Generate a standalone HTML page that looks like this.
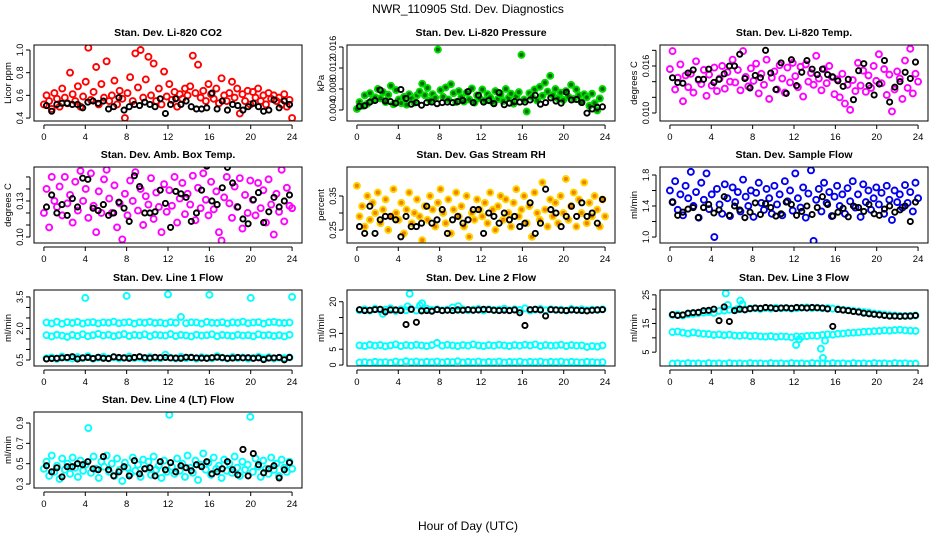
<!DOCTYPE html>
<html><head><meta charset="utf-8">
<style>
html,body{margin:0;padding:0;background:#fff;}
svg{display:block;font-family:"Liberation Sans",Arial,sans-serif;}
</style></head>
<body>
<svg id="chart" width="936" height="540" viewBox="0 0 936 540" xmlns="http://www.w3.org/2000/svg">
<rect x="0" y="0" width="936" height="540" fill="#fff"/>
<text x="468" y="13" font-size="12" text-anchor="middle" fill="#000">NWR_110905  Std. Dev. Diagnostics</text>
<text x="468" y="530" font-size="12" text-anchor="middle" fill="#000">Hour of Day (UTC)</text>
<g id="panels"></g>
</svg>
<script>
// ---- data (cloud series: 96 samples over 0..24h; black series: 48 half-hour samples) ----
const xTicks = [0,4,8,12,16,20,24];
const co2Red = [.52,.60,.55,.48,.62,.57,.50,.66,.58,.53,.80,.61,.55,.68,.50,.59,.72,1.02,.56,.63,.85,.52,.70,.58,.90,.55,.60,.73,.52,.64,.57,.40,.62,.76,.55,.97,.67,1.0,.58,.74,.94,.60,.88,.55,.66,.52,.81,.59,.70,.56,.63,.50,.61,.57,.66,.60,.68,.95,.62,.87,.58,.64,.55,.70,.61,.57,.66,.53,.75,.60,.55,.62,.72,.58,.66,.44,.61,.55,.64,.52,.63,.58,.66,.55,.60,.52,.62,.57,.60,.55,.58,.52,.61,.50,.56,.40];
const co2Black = [.51,.46,.52,.53,.53,.52,.52,.49,.54,.55,.53,.55,.48,.50,.58,.47,.50,.52,.51,.54,.52,.50,.57,.44,.52,.57,.52,.55,.50,.48,.48,.49,.62,.48,.55,.47,.52,.51,.47,.50,.53,.50,.46,.47,.56,.49,.55,.52];
const presGreen = [4.2,5.5,4.8,6.8,5.2,7.2,5.9,6.4,8.0,6.2,7.4,5.5,6.9,8.6,5.1,7.8,6.0,5.3,6.5,5.0,7.0,6.2,5.4,6.8,7.5,9.0,6.8,8.2,5.8,7.0,6.3,15.5,7.8,6.5,8.3,6.0,8.9,7.2,5.5,7.6,6.4,5.6,7.3,6.0,8.1,5.4,6.8,6.2,7.9,5.8,7.0,6.4,5.5,7.6,6.1,6.9,5.7,8.0,6.3,7.1,5.2,6.6,7.4,14.5,6.0,3.7,7.2,6.5,7.9,5.8,8.4,6.7,9.2,7.5,10.5,6.8,8.0,6.2,7.3,5.9,7.6,6.5,8.8,6.1,7.9,6.8,5.5,7.0,6.4,4.8,7.1,5.3,3.9,6.2,8.0,17.0];
const presBlack = [4.7,4.8,5.5,5.8,7.8,5.7,5.6,5.3,7.9,6.2,5.1,5.4,4.9,5.4,5.5,5.2,5.4,5.5,5.4,5.6,5.8,7.5,5.4,6.8,5.5,5.8,5.2,7.3,5.0,5.3,5.6,5.5,5.5,5.9,6.8,5.1,5.4,6.3,5.7,5.3,7.4,5.9,6.0,5.4,3.4,4.2,4.5,4.6];
const tempMag = [15.6,17.9,13.0,14.5,16.2,11.5,14.8,13.3,15.0,12.6,16.6,14.2,13.7,15.5,12.2,14.9,13.5,15.8,12.8,14.4,16.0,13.1,15.2,14.0,16.8,13.9,15.5,12.9,17.9,14.6,13.4,15.7,14.1,16.3,12.5,15.0,13.6,16.8,11.8,14.5,15.3,13.0,16.1,14.4,12.6,15.8,13.9,16.4,14.7,13.3,15.9,12.1,16.2,14.0,15.1,13.6,17.3,14.4,12.9,15.6,13.8,16.0,14.6,12.4,14.3,12.0,15.0,11.2,13.6,10.4,14.2,12.8,16.4,13.5,15.4,12.7,14.8,13.2,16.0,14.1,17.5,13.8,15.6,12.3,14.9,10.2,13.0,15.3,14.4,11.8,16.7,13.2,18.2,12.5,15.0,14.0];
const tempBlack = [14.5,13.9,13.8,15.1,15.5,14.3,14.3,15.6,13.9,14.3,15.0,16.0,16.0,17.5,14.4,13.2,14.8,14.5,18.0,15.1,13.0,16.4,12.5,16.8,13.5,15.2,16.7,15.6,14.9,15.6,14.9,14.6,14.1,13.4,14.3,11.7,15.4,16.3,13.5,12.3,13.7,16.7,11.4,13.3,14.0,15.2,14.4,16.5];
const ambMag = [.12,.14,.108,.15,.13,.125,.142,.118,.15,.128,.135,.112,.146,.122,.155,.13,.14,.116,.153,.126,.104,.138,.12,.148,.156,.132,.12,.143,.108,.128,.098,.136,.118,.147,.13,.154,.122,.14,.11,.134,.127,.149,.115,.137,.125,.104,.144,.121,.139,.126,.15,.112,.132,.145,.119,.136,.127,.151,.114,.141,.124,.153,.131,.118,.146,.123,.138,.104,.097,.133,.15,.128,.116,.142,.125,.149,.107,.135,.12,.147,.131,.118,.145,.124,.139,.112,.148,.127,.102,.136,.121,.156,.113,.141,.126,.124];
const ambBlack = [.125,.135,.12,.127,.118,.132,.125,.149,.148,.124,.122,.127,.118,.12,.129,.124,.113,.151,.142,.12,.12,.121,.139,.128,.108,.138,.136,.133,.113,.12,.139,.159,.13,.127,.141,.158,.145,.125,.115,.111,.131,.137,.112,.121,.133,.125,.13,.135];
const rhOrange = [.38,.29,.32,.26,.35,.28,.33,.30,.36,.27,.31,.34,.25,.29,.37,.30,.28,.33,.24,.31,.36,.27,.30,.34,.29,.22,.32,.28,.35,.31,.26,.33,.37,.30,.27,.34,.24,.31,.36,.29,.32,.26,.35,.23,.30,.28,.34,.31,.29,.33,.27,.36,.31,.25,.32,.35,.28,.34,.30,.26,.33,.37,.29,.31,.35,.27,.32,.23,.36,.30,.28,.39,.31,.26,.34,.29,.33,.27,.35,.30,.40,.28,.32,.36,.26,.34,.30,.39,.27,.33,.29,.35,.31,.26,.34,.29];
const rhBlack = [.26,.24,.32,.24,.28,.29,.29,.28,.23,.29,.26,.26,.27,.32,.27,.28,.31,.24,.28,.29,.27,.28,.31,.31,.24,.30,.29,.27,.30,.28,.29,.26,.27,.33,.24,.27,.37,.31,.30,.26,.29,.32,.29,.33,.29,.30,.27,.34];
const flowBlue = [1.60,1.45,1.72,1.35,1.55,1.28,1.66,1.50,1.84,1.40,1.58,1.25,1.70,1.48,1.82,1.36,1.55,1.00,1.62,1.42,1.30,1.68,1.50,1.27,1.64,1.45,1.58,1.33,1.74,1.52,1.40,1.60,1.26,1.57,1.70,1.44,1.35,1.62,1.50,1.30,1.66,1.42,1.55,1.28,1.72,1.46,1.60,1.34,1.82,1.50,1.38,1.64,1.25,1.56,1.86,0.95,1.48,1.62,1.33,1.70,1.44,1.58,1.27,1.52,1.66,1.40,1.55,1.30,1.63,1.46,1.72,1.38,1.55,1.26,1.68,1.45,1.60,1.35,1.50,1.64,1.42,1.57,1.30,1.66,1.48,1.22,1.60,1.45,1.55,1.38,1.67,1.44,1.58,1.33,1.70,1.50];
const flowBlack = [1.45,1.28,1.32,1.36,1.38,1.25,1.38,1.42,1.31,1.35,1.52,1.28,1.40,1.35,1.25,1.32,1.44,1.29,1.43,1.38,1.27,1.30,1.45,1.42,1.28,1.33,1.40,1.29,1.38,1.52,1.42,1.27,1.32,1.37,1.26,1.40,1.38,1.33,1.42,1.30,1.28,1.36,1.40,1.32,1.35,1.40,1.20,1.45];
const l1Upper = [2.28,2.24,2.32,2.22,2.30,2.26,2.31,2.23,2.28,2.30,2.24,2.29,2.27,2.32,2.25,2.28,2.30,2.23,2.29,2.27,2.31,2.26,2.28,2.24,2.30,2.27,2.55,2.25,2.29,2.28,2.23,2.31,2.27,2.26,2.30,2.24,2.29,2.27,2.32,2.25,2.28,2.30,2.23,2.29,2.31,2.27,2.26,2.28];
const l1Middle = [1.68,1.62,1.70,1.66,1.60,1.69,1.64,1.72,1.63,1.68,1.74,1.66,1.70,1.63,1.68,1.73,1.64,1.69,1.67,1.72,1.63,1.70,1.68,1.66,1.73,1.64,1.69,1.67,1.62,1.70,1.66,1.68,1.72,1.63,1.69,1.67,1.64,1.70,1.66,1.68,1.63,1.72,1.67,1.69,1.64,1.68,1.62,1.70];
const l1Lower = [.58,.62,.55,.66,.60,.57,.64,.59,.68,.56,.61,.65,.58,.63,.57,.60,.66,.59,.62,.56,.64,.60,.58,.75,.61,.57,.65,.59,.62,.56,.63,.60,.58,.68,.61,.57,.64,.59,.62,.56,.60,.65,.58,.63,.57,.61,.59,.62];
const l1OutT = [4,8,12,16,20,24];
const l1OutV = [3.45,3.55,3.62,3.6,3.45,3.5];
const l1Black = [.55,.57,.58,.60,.62,.66,.55,.60,.62,.57,.63,.58,.57,.65,.62,.60,.58,.62,.66,.61,.59,.63,.61,.62,.60,.59,.58,.63,.62,.60,.59,.58,.61,.63,.61,.58,.59,.62,.60,.61,.58,.60,.52,.59,.60,.62,.51,.62];
const l2Upper = [17.3,17.6,17.2,17.8,17.4,17.5,17.9,17.1,17.6,17.3,17.7,17.2,17.5,17.8,17.4,17.6,17.3,17.5,18.2,17.4,17.6,17.3,17.5,17.7,17.2,17.6,17.4,17.5,17.8,17.3,17.6,17.4,17.9,17.2,17.5,17.7,17.3,17.6,17.4,17.5,17.2,17.7,17.4,17.6,17.3,17.5,17.4,17.6];
const l2Middle = [6.2,6.0,6.4,6.1,6.3,5.9,6.2,6.5,6.0,6.3,6.1,6.4,6.2,6.0,6.3,7.0,6.1,6.4,6.2,6.0,6.3,6.1,6.5,6.2,6.0,6.3,6.1,6.4,6.2,6.0,6.3,6.1,6.4,6.2,6.5,6.0,6.3,6.1,6.2,6.4,6.0,6.3,6.1,6.2,5.7,6.0,5.8,6.2];
const l2Lower = [.8,.9,.7,1.0,.8,.9,.7,1.1,.8,1.2,.9,1.1,.8,1.0,.9,1.1,.8,1.0,.9,1.2,.8,1.0,.9,1.1,.8,1.0,.9,1.1,.8,1.0,.9,1.1,.8,1.0,.9,1.1,.8,1.0,.9,1.1,.8,1.0,.9,.8,1.0,.9,.8,.9];
const l2OutT = [5.1,6.3,4.9,6.1,2.5,9.8];
const l2OutV = [22.5,19.5,18.5,18.8,16.2,18.6];
const l2Black = [17.5,17.2,17.3,17.5,17.6,16.8,17.4,17.4,17.2,12.8,17.6,13.5,17.1,17.2,17.0,17.5,17.2,17.3,17.2,17.4,17.3,17.5,17.3,17.4,17.6,17.5,17.3,17.2,17.3,17.2,17.4,16.5,12.5,17.5,17.6,17.4,15.5,17.5,17.4,17.3,17.2,17.4,17.3,17.2,17.1,17.3,17.4,17.5];
const l3Upper = [18.0,18.1,17.8,18.2,18.4,18.6,18.8,19.0,18.7,19.4,19.5,19.8,19.6,20.0,19.9,20.2,20.3,20.1,20.4,20.2,20.5,20.3,20.4,20.2,20.3,20.5,20.6,20.4,20.5,20.3,20.4,20.2,20.0,19.8,19.6,19.4,19.2,19.0,18.8,18.5,18.3,18.1,17.9,17.8,17.7,17.6,17.7,17.8];
const l3Middle = [12.0,12.2,11.8,11.5,11.9,11.6,11.4,11.3,11.0,11.2,10.9,11.1,10.8,10.7,10.9,10.6,10.7,10.5,10.4,10.6,10.3,10.5,10.4,10.2,10.5,10.4,10.6,10.8,10.7,11.0,11.2,11.1,11.4,11.5,11.7,11.8,11.9,12.1,12.2,12.3,12.4,12.6,12.5,12.7,12.8,12.6,12.5,12.4];
const l3Lower = [1.0,1.1,.9,1.2,1.0,1.1,.9,1.2,1.0,1.1,.9,1.2,1.0,1.1,.9,1.2,1.0,1.1,.9,1.2,1.0,1.1,.9,1.2,1.0,1.1,.9,1.2,1.0,1.1,.9,1.2,1.0,1.1,.9,1.2,1.0,1.1,.9,1.2,1.0,1.1,.9,1.2,1.0,1.1,.9,1.0];
const l3OutT = [5.4,5.6,6.8,7.0,6.5,12.2,14.6,14.8,12.5,15.0];
const l3OutV = [25.5,21.5,23.0,21.8,20.0,7.5,6.2,3.0,9.5,9.0];
const l3Black = [18.1,17.8,18.0,18.6,18.8,18.9,19.5,19.6,20.0,16.0,20.8,15.7,19.5,20.0,19.8,20.2,20.4,20.3,20.6,20.5,20.2,20.4,20.5,20.3,20.6,20.5,20.4,20.6,20.5,20.4,20.1,14.0,19.9,19.7,19.5,19.2,19.0,18.6,18.4,18.2,18.0,17.8,17.6,17.6,17.5,17.6,17.6,17.8];
const l4Cyan = [.45,.52,.38,.58,.42,.48,.35,.55,.44,.50,.40,.56,.46,.37,.53,.43,.49,.85,.41,.57,.45,.36,.52,.47,.58,.42,.50,.38,.55,.44,.33,.51,.46,.40,.56,.43,.49,.37,.54,.45,.52,.39,.57,.44,.48,.36,.53,.42,.98,.47,.40,.55,.43,.50,.37,.58,.46,.41,.53,.34,.49,.60,.44,.51,.39,.56,.45,.48,.36,.54,.43,.50,.41,.57,.46,.38,.52,.44,.49,.96,.42,.55,.47,.37,.53,.45,.40,.56,.44,.50,.38,.54,.46,.42,.52,.45];
const l4Black = [.48,.42,.46,.37,.47,.47,.50,.49,.52,.45,.44,.57,.44,.38,.42,.47,.38,.53,.40,.45,.46,.38,.52,.44,.51,.42,.48,.46,.43,.49,.47,.52,.40,.42,.45,.52,.44,.39,.64,.38,.60,.49,.41,.45,.48,.36,.44,.51];

// tick arrays
const co2Ticks=[0.4,0.6,0.8,1.0], co2Labels=["0.4","0.6","0.8","1.0"];
const presTicks=[4,8,12,16], presLabels=["0.004","0.008","0.012","0.016"];
const tempTicks=[10,12,14,16,18], tempLabels=["0.010","","","0.016",""];
const ambTicks=[.10,.11,.12,.13,.14,.15], ambLabels=["0.10","","","0.13","",""];
const rhTicks=[.25,.30,.35], rhLabels=["0.25","","0.35"];
const flowTicks=[1.0,1.2,1.4,1.6,1.8], flowLabels=["1.0","","1.4","","1.8"];
const l1Ticks=[.5,1,1.5,2,2.5,3,3.5], l1Labels=["0.5","","","2.0","","","3.5"];
const l2Ticks=[0,5,10,15,20], l2Labels=["0","5","10","","20"];
const l3Ticks=[5,10,15,20,25], l3Labels=["5","","15","","25"];
const l4Ticks=[.3,.5,.7,.9], l4Labels=["0.3","0.5","0.7","0.9"];

const NS="http://www.w3.org/2000/svg";
const root=document.getElementById('panels');
function mk(tag,attrs,parent){const e=document.createElementNS(NS,tag);for(const k in attrs)e.setAttribute(k,attrs[k]);(parent||root).appendChild(e);return e;}
const cloudT=(n)=>Array.from({length:n},(_,i)=>i*24/(n-1));
const halfT=(n)=>Array.from({length:n},(_,i)=>0.25+i*0.5);

const panels=[
 {name:"co2",title:"Stan. Dev. Li-820 CO2",ylab:"Licor ppm",col:0,row:0,lo:.374,hi:1.044,ticks:co2Ticks,labels:co2Labels,
  series:[{v:co2Red,c:"#ff0000"},{v:co2Black,c:"#000",black:1}]},
 {name:"pressure",title:"Stan. Dev. Li-820 Pressure",ylab:"kPa",col:1,row:0,lo:1.9,hi:16.38,ticks:presTicks,labels:presLabels,
  series:[{v:presGreen,c:"#00dd00",f:"#0a6a0a"},{v:presBlack,c:"#000",black:1}]},
 {name:"temp",title:"Stan. Dev. Li-820 Temp.",ylab:"degrees C",col:2,row:0,lo:8.98,hi:18.68,ticks:tempTicks,labels:tempLabels,
  series:[{v:tempMag,c:"#ff00ff"},{v:tempBlack,c:"#000",black:1}]},
 {name:"amb-box-temp",title:"Stan. Dev. Amb. Box Temp.",ylab:"degrees C",col:0,row:1,lo:.095,hi:.1583,ticks:ambTicks,labels:ambLabels,
  series:[{v:ambMag,c:"#ff00ff"},{v:ambBlack,c:"#000",black:1}]},
 {name:"gas-rh",title:"Stan. Dev. Gas Stream RH",ylab:"percent",col:1,row:1,lo:.2118,hi:.4353,ticks:rhTicks,labels:rhLabels,
  series:[{v:rhOrange,c:"#ffd400",f:"#f08000"},{v:rhBlack,c:"#000",black:1}]},
 {name:"sample-flow",title:"Stan. Dev. Sample Flow",ylab:"ml/min",col:2,row:1,lo:.923,hi:1.903,ticks:flowTicks,labels:flowLabels,
  series:[{v:flowBlue,c:"#0000ee"},{v:flowBlack,c:"#000",black:1}]},
 {name:"line1-flow",title:"Stan. Dev. Line 1 Flow",ylab:"ml/min",col:0,row:2,lo:.214,hi:3.83,ticks:l1Ticks,labels:l1Labels,
  series:[{v:l1Upper,c:"#00ffff",half:1},{v:l1Middle,c:"#00ffff",half:1},{v:l1Lower,c:"#00ffff",half:1},{v:l1OutV,t:l1OutT,c:"#00ffff"},{v:l1Black,c:"#000",black:1}]},
 {name:"line2-flow",title:"Stan. Dev. Line 2 Flow",ylab:"ml/min",col:1,row:2,lo:-0.3,hi:23.7,ticks:l2Ticks,labels:l2Labels,
  series:[{v:l2Upper,c:"#00ffff",half:1},{v:l2Middle,c:"#00ffff",half:1},{v:l2Lower,c:"#00ffff",half:1},{v:l2OutV,t:l2OutT,c:"#00ffff"},{v:l2Black,c:"#000",black:1}]},
 {name:"line3-flow",title:"Stan. Dev. Line 3 Flow",ylab:"ml/min",col:2,row:2,lo:.17,hi:26.7,ticks:l3Ticks,labels:l3Labels,
  series:[{v:l3Upper,c:"#00ffff",half:1},{v:l3Middle,c:"#00ffff",half:1},{v:l3Lower,c:"#00ffff",half:1},{v:l3OutV,t:l3OutT,c:"#00ffff"},{v:l3Black,c:"#000",black:1}]},
 {name:"line4-flow",title:"Stan. Dev. Line 4 (LT) Flow",ylab:"ml/min",col:0,row:3,lo:.261,hi:1.008,ticks:l4Ticks,labels:l4Labels,
  series:[{v:l4Cyan,c:"#00ffff"},{v:l4Black,c:"#000",black:1}]}
];

const colLeft=[34,347,660], rowTop=[45,167,290,412], W=268, H=76;
panels.forEach(p=>{
  const L=colLeft[p.col], T=rowTop[p.row];
  const xs=t=>L+(t+0.96)/25.92*W;
  const ys=v=>T+H-(v-p.lo)/(p.hi-p.lo)*H;
  const g=mk('g',{});
  
  
  const title=mk('text',{x:L+W/2,y:T-9,'font-size':10.5,'font-weight':'bold','text-anchor':'middle'},g);
  title.textContent=p.title;
  
  
  const yl=mk('text',{x:0,y:0,'font-size':9.5,'text-anchor':'middle',transform:`translate(${L-23},${T+H/2}) rotate(-90)`},g);
  yl.textContent=p.ylab;
  
  
  const xa=mk('g',{},g);
  
  
  mk('line',{x1:xs(0),x2:xs(24),y1:T+H+4,y2:T+H+4,stroke:'#000','stroke-width':1},xa);
  xTicks.forEach(t=>{
    mk('line',{x1:xs(t),x2:xs(t),y1:T+H+4,y2:T+H+8,stroke:'#000'},xa);
    const tx=mk('text',{x:xs(t),y:T+H+19,'font-size':9.5,'text-anchor':'middle'},xa);
    tx.textContent=t;
    
    
  });
  const ya=mk('g',{},g);
  
  
  mk('line',{x1:L-4,x2:L-4,y1:ys(p.ticks[0]),y2:ys(p.ticks[p.ticks.length-1]),stroke:'#000'},ya);
  p.ticks.forEach((v,i)=>{
    mk('line',{x1:L-8,x2:L-4,y1:ys(v),y2:ys(v),stroke:'#000'},ya);
    if(p.labels[i]){
      const tx=mk('text',{x:0,y:0,'font-size':9,'text-anchor':'middle',transform:`translate(${L-11},${ys(v)}) rotate(-90)`},ya);
      tx.textContent=p.labels[i];
      
      
    }
  });
  const cl=mk('clipPath',{id:'clip-'+p.name},g);
  mk('rect',{x:L,y:T,width:W,height:H},cl);
  const pts=mk('g',{'clip-path':`url(#clip-${p.name})`},g);
  
  
  p.series.forEach(s=>{
    const ts=s.t||(s.black||s.half?halfT(s.v.length):cloudT(s.v.length));
    s.v.forEach((v,i)=>{
      const c=mk('circle',{cx:xs(ts[i]),cy:ys(v),r:s.black?2.6:3,fill:s.f||'none',stroke:s.c,'stroke-width':s.black?1.9:1.9},pts);
      
      
    });
  });
  const box=mk('rect',{x:L,y:T,width:W,height:H,fill:'none',stroke:'#000','stroke-width':1},g);
  
  
});
</script>
</body></html>
